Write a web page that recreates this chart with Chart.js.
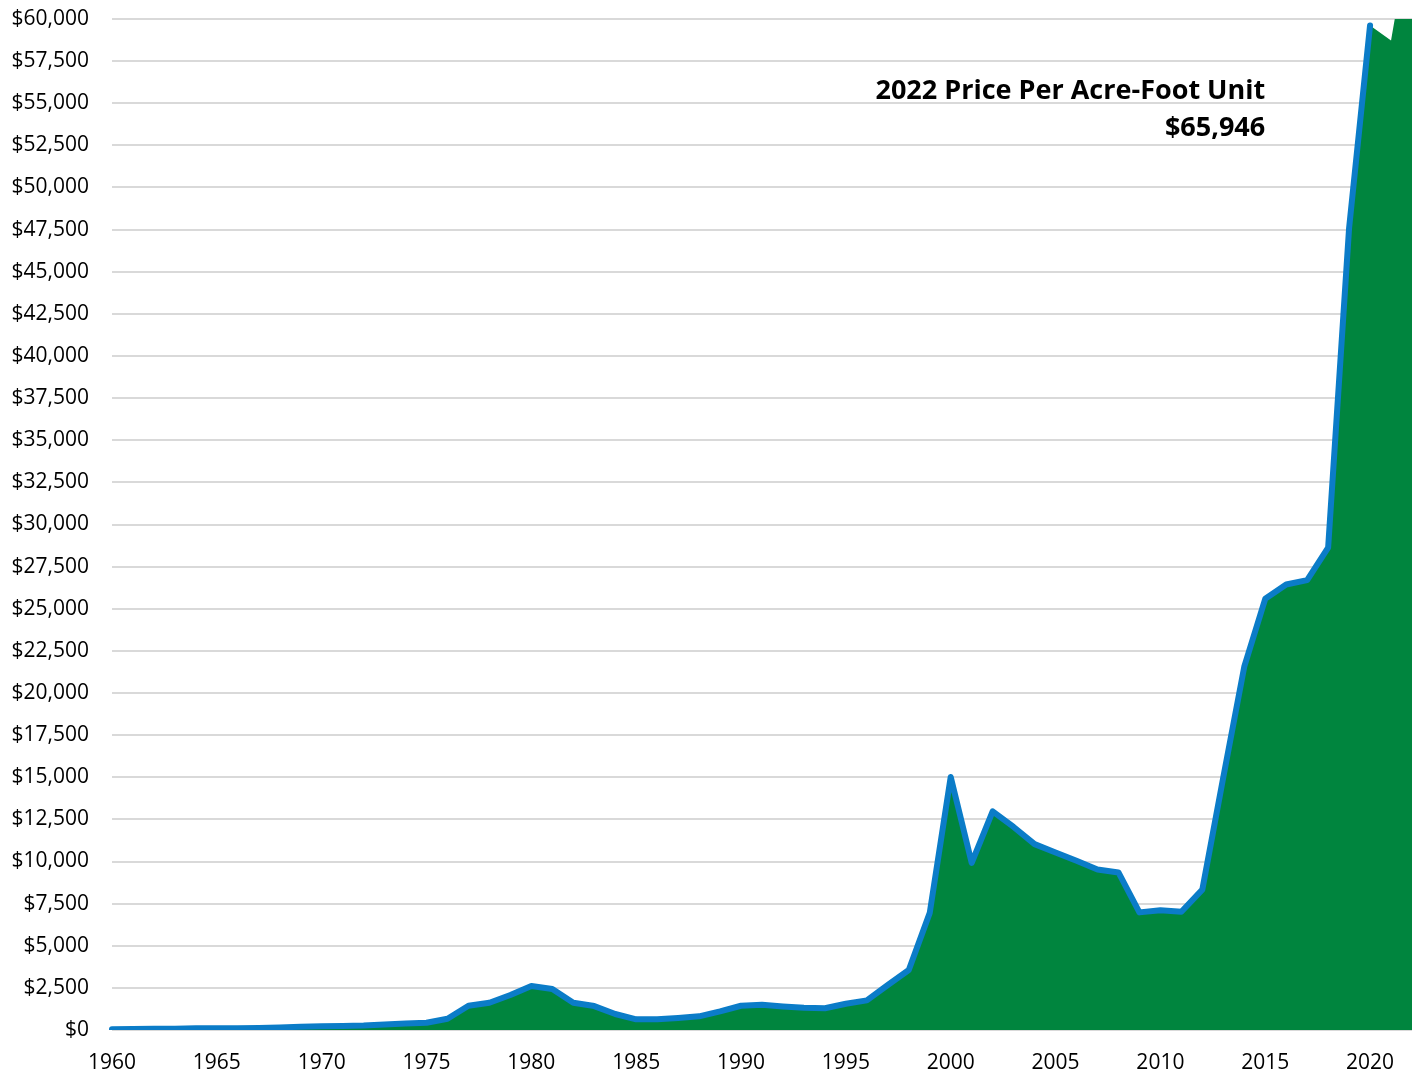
<!DOCTYPE html>
<html>
<head>
<meta charset="utf-8">
<script src="https://cdn.jsdelivr.net/npm/chart.js@4/dist/chart.umd.min.js"></script>
<style>
  html, body { margin: 0; padding: 0; background: #fff; }
  #wrap { width: 1418px; height: 1074px; position: relative; }
</style>
</head>
<body>
<div id="wrap"><canvas id="chart"></canvas></div>
<script>
const years = [];
for (let y = 1960; y <= 2022; y++) years.push(y);

// price per acre-foot unit
const prices = [
  50, 60, 70, 80, 100, 100, 110, 120, 150, 200,       // 1960s
  220, 240, 260, 320, 380, 430, 670, 1440, 1620, 2075, // 1970s
  2610, 2430, 1620, 1420, 950, 635, 635, 710, 810, 1110, // 1980s
  1440, 1500, 1400, 1320, 1290, 1560, 1760, 2670, 3560, 6950, // 1990s
  15020, 9920, 12980, 12050, 11030, 10530, 10040, 9530, 9350, 6980, // 2000s
  7110, 7020, 8330, 15000, 21560, 25590, 26440, 26700, 28630, 47600, // 2010s
  59620, 58720, 65946,
];
// the blue outline stops at 2020 in the original
const outlineLastYear = 2020;

const noteLines = ["2022 Price Per Acre-Foot Unit", "$65,946"];
const noteYear = 2015;
const noteValues = [55700, 53500];

const fontFamily = "'Open Sans', 'Noto Sans', sans-serif";

const noteText = {
  id: "noteText",
  afterDraw(chart) {
    const { ctx, scales } = chart;
    const x = scales.x.getPixelForValue(years.indexOf(noteYear));
    ctx.save();
    ctx.font = "bold 27px " + fontFamily;
    ctx.fillStyle = "#000";
    ctx.textAlign = "right";
    ctx.textBaseline = "middle";
    noteLines.forEach((line, i) => {
      ctx.fillText(line, x, scales.y.getPixelForValue(noteValues[i]));
    });
    ctx.restore();
  },
};

new Chart(document.getElementById("chart"), {
  type: "line",
  data: {
    labels: years,
    datasets: [
      {
        label: "outline",
        data: prices.map((p, i) => (years[i] <= outlineLastYear ? p : null)),
        borderColor: "#0b7cc8",
        borderWidth: 6,
        borderJoinStyle: "round",
        borderCapStyle: "round",
        pointRadius: 0,
        fill: false,
        tension: 0,
        order: 0,
      },
      {
        label: "area",
        data: prices,
        backgroundColor: "#00853e",
        borderWidth: 0,
        pointRadius: 0,
        fill: "origin",
        tension: 0,
        order: 1,
      },
    ],
  },
  options: {
    responsive: true,
    maintainAspectRatio: false,
    animation: false,
    layout: { padding: { top: 19, right: 6, bottom: 0, left: 0 } },
    plugins: { legend: { display: false }, tooltip: { enabled: false } },
    scales: {
      x: {
        type: "category",
        offset: false,
        // invisible tick marks give the gap under the plot
        grid: { drawOnChartArea: false, drawTicks: true, tickLength: 21, tickColor: "rgba(0,0,0,0)" },
        border: { display: false },
        ticks: {
          autoSkip: false,
          maxRotation: 0,
          padding: 2,
          color: "#000",
          font: { family: fontFamily, size: 21, lineHeight: 1 },
          callback: (val, i) => (years[i] % 5 === 0 ? String(years[i]) : ""),
        },
        afterFit(scale) { scale.height = 44; },
      },
      y: {
        min: 0,
        max: 60000,
        grid: { color: "#d9d9d9", lineWidth: 2, drawTicks: true, tickLength: 23, tickColor: "rgba(0,0,0,0)" },
        border: { display: false },
        ticks: {
          stepSize: 2500,
          padding: 0,
          color: "#000",
          font: { family: fontFamily, size: 21 },
          callback: (v) => "$" + v.toLocaleString("en-US"),
        },
        afterFit(scale) { scale.width = 112; },
      },
    },
  },
  plugins: [noteText],
});
</script>
</body>
</html>
